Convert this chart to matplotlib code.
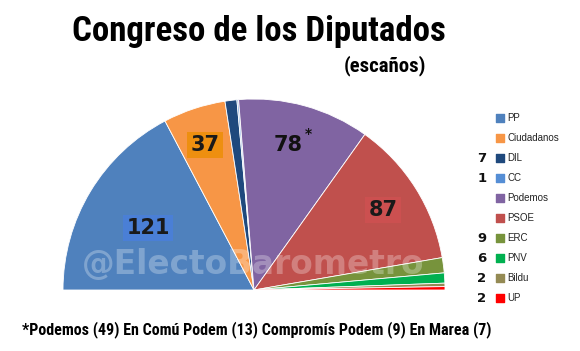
import matplotlib.pyplot as plt
from matplotlib import font_manager as fm

# Seats per party (350 total)
parties = ['PP', 'Ciudadanos', 'DIL', 'CC', 'Podemos', 'PSOE', 'ERC', 'PNV', 'Bildu', 'UP']
seats = [121, 37, 7, 1, 78, 87, 9, 6, 2, 2]
colors = ['#4F81BD', '#F79646', '#1F497D', '#8DB3E2', '#8064A2',
          '#C0504D', '#77933C', '#00B050', '#948A54', '#FF0000']
# which parties get their number next to the legend
side_numbers = {'DIL': 7, 'CC': 1, 'ERC': 9, 'PNV': 6, 'Bildu': 2, 'UP': 2}
footnote = '*Podemos (49) En Comú Podem (13) Compromís Podem (9) En Marea (7)'

# look for a narrow bold font
names = {f.name for f in fm.fontManager.ttflist}
cond, stretch = 'DejaVu Sans', 'normal'
for cand in ['Liberation Sans Narrow', 'DejaVu Sans Condensed', 'Roboto Condensed',
             'Open Sans Condensed', 'Noto Sans Condensed', 'Arial Narrow']:
    if cand in names:
        cond = cand
        break
else:
    if any(f.name == 'DejaVu Sans' and f.stretch == 'condensed' for f in fm.fontManager.ttflist):
        stretch = 'condensed'

W, H = 580, 351
fig = plt.figure(figsize=(W / 100, H / 100), dpi=100)
ax = fig.add_axes([0, 0, 1, 1])

# half pie: add the hidden half as a blank wedge
cx, cy, r = 254, H - 290, 191
wedges, _ = ax.pie(seats + [sum(seats)], colors=colors + ['none'], startangle=180,
                   counterclock=False, radius=r, center=(cx, cy), frame=True,
                   wedgeprops=dict(linewidth=0.6, edgecolor='white'))
wedges[-1].set_edgecolor('none')
ax.set_xlim(0, W)
ax.set_ylim(0, H)
ax.set_aspect('auto')
ax.axis('off')

renderer = fig.canvas.get_renderer()


def fit(t, width):
    """shrink the font size so the text takes the given width in pixels"""
    w = t.get_window_extent(renderer).width
    t.set_fontsize(t.get_fontsize() * width / w)


# watermark
wm = ax.text(253, H - 265, '@ElectoBarometro', ha='center', va='center', fontsize=31,
             fontweight='bold', color='white', alpha=0.28)
fit(wm, 343)

# seat labels inside slices
box = dict(boxstyle='square,pad=0.15', linewidth=0)
ax.text(148, H - 228, str(seats[0]), ha='center', va='center', fontsize=15, fontweight='bold',
        color='#1a1a1a', bbox=dict(box, facecolor='#4A7FD6'))
ax.text(205, H - 145, str(seats[1]), ha='center', va='center', fontsize=15, fontweight='bold',
        color='#1a1a1a', bbox=dict(box, facecolor='#EE8F10'))
ax.text(288, H - 145, str(seats[4]), ha='center', va='center', fontsize=15, fontweight='bold',
        color='#111111')
ax.text(308, H - 134, '*', ha='center', va='center', fontsize=10, fontweight='bold', color='#111111')
ax.text(383, H - 210, str(seats[5]), ha='center', va='center', fontsize=15, fontweight='bold',
        color='#1a1a1a', bbox=dict(box, facecolor='#CC5050'))

# legend
for i, (p, c) in enumerate(zip(parties, colors)):
    y = H - (118 + 20 * i)
    ax.scatter([500], [y], marker='s', s=28, color=c if p != 'CC' else '#558ED5')
    ax.text(507, y, p, ha='left', va='center', fontsize=7, family='Liberation Sans', color='#222222')
    if p in side_numbers:
        ax.text(482, y, str(side_numbers[p]), ha='center', va='center', fontsize=9.5,
                fontweight='bold', color='#111111')

# titles
t1 = ax.text(259, H - 32, 'Congreso de los Diputados', ha='center', va='center', fontsize=30,
             fontweight='bold', family=cond, fontstretch=stretch)
fit(t1, 375)
t2 = ax.text(385, H - 66, '(escaños)', ha='center', va='center', fontsize=14,
             fontweight='bold', family=cond, fontstretch=stretch)
fit(t2, 82)
t3 = ax.text(257, H - 330, footnote, ha='center', va='center', fontsize=13,
             fontweight='bold', family=cond, fontstretch=stretch)
fit(t3, 468)

fig.savefig('out.png', dpi=100)
